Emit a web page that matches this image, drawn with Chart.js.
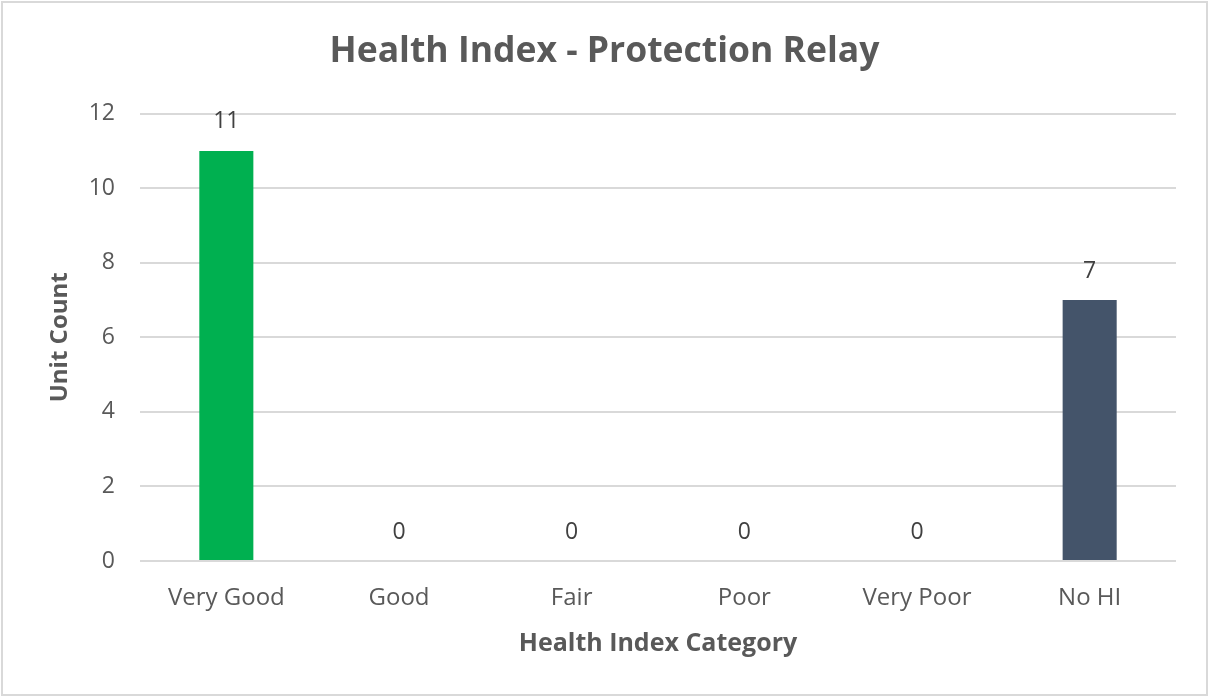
<!DOCTYPE html>
<html>
<head>
<meta charset="utf-8">
<title>Health Index - Protection Relay</title>
<script src="https://cdn.jsdelivr.net/npm/chart.js@4.4.1/dist/chart.umd.min.js"></script>
<style>
  html, body { margin: 0; padding: 0; background: #ffffff; }
  #wrap { width: 1209px; height: 698px; position: relative; }
</style>
</head>
<body>
<div id="wrap"><canvas id="chart" width="1209" height="698"></canvas></div>
<script>
// Health index categories and unit counts
const categories = ['Very Good', 'Good', 'Fair', 'Poor', 'Very Poor', 'No HI'];
const unitCounts = [11, 0, 0, 0, 0, 7];
const barColors = ['#00B050', '#00B050', '#00B050', '#00B050', '#00B050', '#44546A'];
const yTicks = [0, 2, 4, 6, 8, 10, 12];

const FONT = '"Open Sans", "Noto Sans", sans-serif';
const TEXT = '#595959';
const GRID = '#d9d9d9';

// Outer frame around the chart
const framePlugin = {
  id: 'frame',
  beforeDraw(chart) {
    const ctx = chart.ctx;
    ctx.save();
    ctx.fillStyle = '#ffffff';
    ctx.fillRect(0, 0, chart.width, chart.height);
    ctx.strokeStyle = '#d9d9d9';
    ctx.lineWidth = 2;
    ctx.strokeRect(2, 2, chart.width - 4, chart.height - 5);
    ctx.restore();
  }
};

// Value labels above each bar
const valueLabels = {
  id: 'valueLabels',
  afterDatasetsDraw(chart) {
    const ctx = chart.ctx;
    const meta = chart.getDatasetMeta(0);
    ctx.save();
    ctx.font = '23px ' + FONT;
    ctx.fillStyle = '#404040';
    ctx.textAlign = 'center';
    ctx.textBaseline = 'middle';
    meta.data.forEach((bar, i) => {
      ctx.fillText(String(unitCounts[i]), bar.x, bar.y - 29);
    });
    ctx.restore();
  }
};

new Chart(document.getElementById('chart'), {
  type: 'bar',
  data: {
    labels: categories,
    datasets: [{
      data: unitCounts,
      backgroundColor: barColors,
      borderWidth: 0,
      categoryPercentage: 1,
      barPercentage: 0.313
    }]
  },
  options: {
    responsive: false,
    animation: false,
    events: [],
    layout: { padding: { left: 33, right: 33, top: 0, bottom: 0 } },
    plugins: {
      legend: { display: false },
      tooltip: { enabled: false },
      title: {
        display: true,
        text: 'Health Index - Protection Relay',
        color: TEXT,
        font: { family: FONT, size: 35.5, weight: 'bold', lineHeight: 1.2 },
        padding: { top: 31, bottom: 40 }
      }
    },
    scales: {
      x: {
        grid: { display: false, drawTicks: false },
        border: { display: false },
        ticks: { color: TEXT, font: { family: FONT, size: 24 }, padding: 23 },
        title: {
          display: true,
          text: 'Health Index Category',
          color: TEXT,
          font: { family: FONT, size: 25, weight: 'bold', lineHeight: 1.2 },
          padding: { top: 0, bottom: 39 }
        },
        afterFit(scale) { scale.height = 137; }
      },
      y: {
        min: 0,
        max: 12,
        afterBuildTicks(scale) { scale.ticks = yTicks.map(v => ({ value: v })); },
        grid: { color: GRID, lineWidth: 2, drawTicks: false },
        border: { display: false },
        ticks: { color: TEXT, font: { family: FONT, size: 23 }, padding: 25 },
        title: {
          display: true,
          text: 'Unit Count',
          color: TEXT,
          font: { family: FONT, size: 24, weight: 'bold', lineHeight: 1.2 },
          padding: { top: 13, bottom: 0 }
        },
        afterFit(scale) { scale.width = 107; }
      }
    }
  },
  plugins: [framePlugin, valueLabels]
});
</script>
</body>
</html>
